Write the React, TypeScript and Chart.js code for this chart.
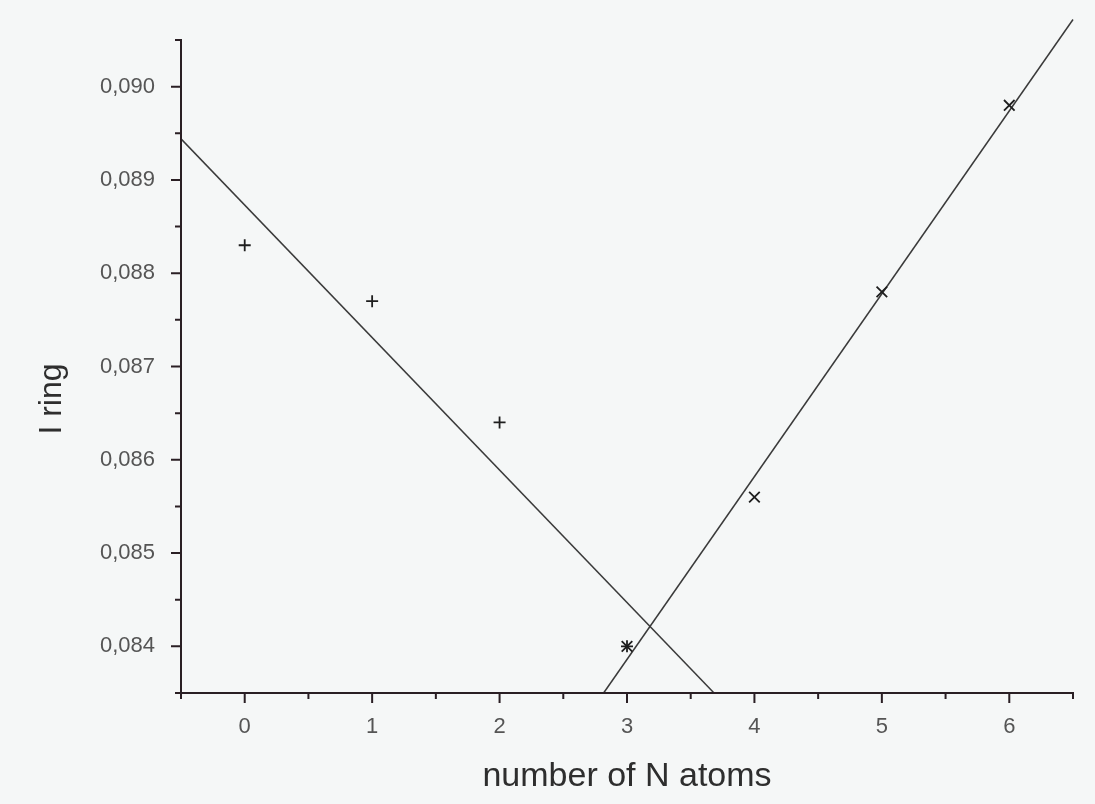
import React, { useEffect, useRef } from "react";
import { Chart, registerables } from "chart.js";

Chart.register(...registerables);

// ---- data ----
const nAtomsFalling = [0, 1, 2, 3];
const iRingFalling = [0.0883, 0.0877, 0.0864, 0.084];
const nAtomsRising = [3, 4, 5, 6];
const iRingRising = [0.084, 0.0856, 0.0878, 0.0898];

const xRange = [-0.5, 6.5];
const yRange = [0.0835, 0.0905];
const xTickLabels = ["0", "1", "2", "3", "4", "5", "6"];
const yTickLabels = ["0,084", "0,085", "0,086", "0,087", "0,088", "0,089", "0,090"];

const xTitle = "number of N atoms";
const yTitle = "I ring";

// ---- least-squares fit ----
function linFit(xs: number[], ys: number[]) {
  const n = xs.length;
  const mx = xs.reduce((a, b) => a + b, 0) / n;
  const my = ys.reduce((a, b) => a + b, 0) / n;
  let sxy = 0;
  let sxx = 0;
  for (let i = 0; i < n; i++) {
    sxy += (xs[i] - mx) * (ys[i] - my);
    sxx += (xs[i] - mx) * (xs[i] - mx);
  }
  const m = sxy / sxx;
  return { m, b: my - m * mx };
}

const FONT = "'Liberation Sans', Arial, Helvetica, sans-serif";
const AXIS_COLOR = "#2a1f24";

export default function App() {
  const ref = useRef<HTMLCanvasElement | null>(null);

  useEffect(() => {
    if (!ref.current) return;

    const f1 = linFit(nAtomsFalling, iRingFalling);
    const f2 = linFit(nAtomsRising, iRingRising);
    const fitFalling = [
      { x: xRange[0], y: f1.m * xRange[0] + f1.b },
      { x: (yRange[0] - f1.b) / f1.m, y: yRange[0] },
    ];
    const fitRising = [
      { x: (yRange[0] - f2.b) / f2.m, y: yRange[0] },
      { x: xRange[1], y: f2.m * xRange[1] + f2.b },
    ];

    const bgPlugin = {
      id: "bg",
      beforeDraw(chart: any) {
        const c = chart.ctx;
        c.save();
        c.fillStyle = "#f5f7f7";
        c.fillRect(0, 0, chart.width, chart.height);
        c.restore();
      },
    };

    const axesPlugin = {
      id: "axesTicks",
      afterDraw(chart: any) {
        const c = chart.ctx;
        const a = chart.chartArea;
        const xs = chart.scales.x;
        const ys = chart.scales.y;
        c.save();
        c.strokeStyle = AXIS_COLOR;
        c.lineWidth = 2;
        c.lineCap = "butt";
        c.beginPath();
        c.moveTo(a.left - 1, a.bottom);
        c.lineTo(a.right + 1, a.bottom);
        c.moveTo(a.left, a.bottom + 1);
        c.lineTo(a.left, a.top - 1);
        // x ticks
        xs.ticks.forEach((t: any) => {
          const px = xs.getPixelForValue(t.value);
          const major = Math.abs(t.value - Math.round(t.value)) < 1e-9;
          c.moveTo(px, a.bottom);
          c.lineTo(px, a.bottom + (major ? 10 : 6));
        });
        // y ticks
        ys.ticks.forEach((t: any) => {
          const py = ys.getPixelForValue(t.value);
          const major = Math.round(t.value * 10000) % 10 === 0;
          c.moveTo(a.left, py);
          c.lineTo(a.left - (major ? 10 : 6), py);
        });
        c.stroke();

        // y axis title
        c.fillStyle = "#2e2e2e";
        c.font = `32px ${FONT}`;
        c.textAlign = "center";
        c.textBaseline = "alphabetic";
        c.translate(61, 399);
        c.rotate(-Math.PI / 2);
        c.fillText(yTitle, 0, 0);
        c.restore();
      },
    };

    const chart = new Chart(ref.current, {
      type: "scatter",
      data: {
        datasets: [
          {
            label: "falling",
            data: nAtomsFalling.map((x, i) => ({ x, y: iRingFalling[i] })),
            pointStyle: "cross",
            pointRadius: 6,
            borderColor: "#1e1e1e",
            backgroundColor: "#1e1e1e",
            borderWidth: 1.8,
            showLine: false,
          },
          {
            label: "rising",
            data: nAtomsRising.map((x, i) => ({ x, y: iRingRising[i] })),
            pointStyle: "crossRot",
            pointRadius: 7.5,
            borderColor: "#1e1e1e",
            backgroundColor: "#1e1e1e",
            borderWidth: 1.8,
            showLine: false,
          },
          {
            label: "fit falling",
            data: fitFalling,
            showLine: true,
            pointRadius: 0,
            borderColor: "#3a3a3a",
            borderWidth: 1.5,
            fill: false,
          },
          {
            label: "fit rising",
            data: fitRising,
            showLine: true,
            pointRadius: 0,
            borderColor: "#3a3a3a",
            borderWidth: 1.5,
            fill: false,
            clip: false,
          } as any,
        ],
      },
      options: {
        animation: false,
        responsive: false,
        maintainAspectRatio: false,
        devicePixelRatio: 1,
        layout: { padding: { top: 40, right: 22, left: 0, bottom: 0 } },
        plugins: {
          legend: { display: false },
          tooltip: { enabled: false },
        },
        scales: {
          x: {
            type: "linear",
            min: xRange[0],
            max: xRange[1],
            afterFit(scale: any) {
              scale.height = 111;
            },
            grid: { display: false, drawTicks: false },
            border: { display: false },
            ticks: {
              stepSize: 0.5,
              autoSkip: false,
              maxRotation: 0,
              padding: 21,
              color: "#555555",
              font: { family: FONT, size: 22 },
              callback: (v: any) => {
                const n = Number(v);
                if (Math.abs(n - Math.round(n)) > 1e-9) return "";
                const idx = Math.round(n);
                return idx >= 0 && idx < xTickLabels.length ? xTickLabels[idx] : "";
              },
            },
            title: {
              display: true,
              text: xTitle,
              color: "#2e2e2e",
              font: { family: FONT, size: 34 },
              padding: { top: 0, bottom: 7 },
            },
          },
          y: {
            type: "linear",
            min: yRange[0],
            max: yRange[1],
            afterFit(scale: any) {
              scale.width = 181;
            },
            grid: { display: false, drawTicks: false },
            border: { display: false },
            ticks: {
              stepSize: 0.0005,
              autoSkip: false,
              padding: 26,
              color: "#555555",
              font: { family: FONT, size: 22 },
              callback: (v: any) => {
                const n = Number(v);
                const k = Math.round(n * 10000);
                if (k % 10 !== 0) return "";
                const idx = Math.round((n - 0.084) / 0.001);
                return idx >= 0 && idx < yTickLabels.length ? yTickLabels[idx] : "";
              },
            },
          },
        },
      },
      plugins: [bgPlugin, axesPlugin],
    });

    return () => chart.destroy();
  }, []);

  return (
    <div style={{ position: "absolute", left: 0, top: 0, width: 1095, height: 804 }}>
      <canvas ref={ref} width={1095} height={804} style={{ width: 1095, height: 804, display: "block" }} />
    </div>
  );
}
